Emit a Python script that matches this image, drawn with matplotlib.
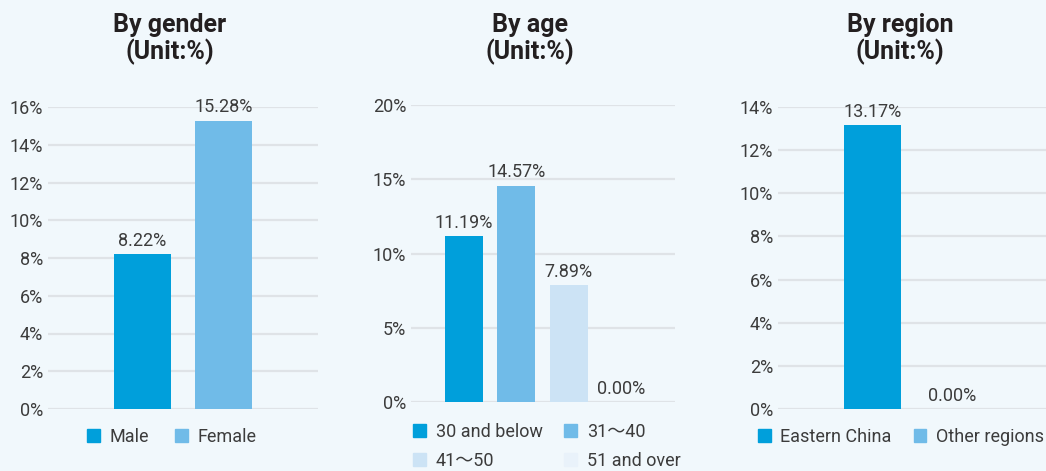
import matplotlib
matplotlib.use("Agg")
import matplotlib.pyplot as plt
from matplotlib.patches import Patch

# data
gender_cats = ["Male", "Female"]
gender_vals = [8.22, 15.28]
age_cats = ["30 and below", "31～40", "41～50", "51 and over"]
age_vals = [11.19, 14.57, 7.89, 0.00]
region_cats = ["Eastern China", "Other regions"]
region_vals = [13.17, 0.00]

titles = ["By gender", "By age", "By region"]

c1, c2, c3, c4 = "#009fdb", "#70bbe8", "#cce3f5", "#e9f2fa"
bg = "#f1f8fc"
txt = "#3c3c3c"
grid = "#dfe3e7"
fam = ["Roboto", "Noto Sans CJK SC", "DejaVu Sans"]

plt.rcParams["font.family"] = fam

fig = plt.figure(figsize=(10.46, 4.71), dpi=100, facecolor=bg)


def panel(rect, cats, vals, colors, ymax, ystep, width, xlim, title, tx,
          leg_xy, ncol, colsp, order=None):
    ax = fig.add_axes(rect)
    ax.set_facecolor(bg)
    x = list(range(len(cats)))
    bars = ax.bar(x, vals, width=width, color=colors, zorder=3)
    for b, v in zip(bars, vals):
        ax.annotate("%.2f%%" % v, (b.get_x() + b.get_width() / 2, v),
                    xytext=(0, 3), textcoords="offset points",
                    ha="center", va="bottom", fontsize=13, color=txt,
                    annotation_clip=False)
    ax.set_ylim(0, ymax)
    ax.set_xlim(*xlim)
    ax.set_yticks(range(0, ymax + 1, ystep))
    ax.set_yticklabels(["%d%%" % t for t in range(0, ymax + 1, ystep)])
    ax.set_xticks([])
    ax.yaxis.grid(True, color=grid, linewidth=1.6, zorder=0)
    ax.tick_params(axis="y", length=0, pad=3.6, labelsize=13, labelcolor=txt)
    for s in ax.spines.values():
        s.set_visible(False)
    fig.text(tx, 1 - 32 / 471, title, ha="center", va="baseline",
             fontsize=18, fontweight="bold", color="#231f20")
    fig.text(tx, 1 - 59 / 471, "(Unit:%)", ha="center", va="baseline",
             fontsize=18, fontweight="bold", color="#231f20")
    handles = [Patch(color=c) for c in colors]
    labels = list(cats)
    if order:
        handles = [handles[i] for i in order]
        labels = [labels[i] for i in order]
    fig.legend(handles, labels, loc="center", bbox_to_anchor=leg_xy, ncol=ncol,
               frameon=False, fontsize=13, labelcolor=txt,
               handlelength=0.7, handleheight=0.7, handletextpad=0.55,
               columnspacing=colsp, labelspacing=0.6, borderpad=0)
    return ax


panel([48 / 1046, 1 - 409 / 471, 270 / 1046, 302 / 471],
      gender_cats, gender_vals, [c1, c2], 16, 2, 0.70, (-1.17, 2.17),
      titles[0], 170 / 1046, (172 / 1046, 1 - 437 / 471), 2, 1.45)

# legend fills column-wise, reorder so it reads row by row
panel([411 / 1046, 1 - 402 / 471, 264 / 1046, 297 / 471],
      age_cats, age_vals, [c1, c2, c3, c4], 20, 5, 0.73, (-1.01, 4.03),
      titles[1], 530 / 1046, (547 / 1046, 1 - 446.5 / 471), 2, 1.2,
      order=[0, 2, 1, 3])

panel([778 / 1046, 1 - 409 / 471, 268 / 1046, 302 / 471],
      region_cats, region_vals, [c1, c2], 14, 2, 0.71, (-1.18, 2.17),
      titles[2], 900 / 1046, (901 / 1046, 1 - 437 / 471), 2, 1.2)

fig.savefig("out.png", dpi=100, facecolor=bg)
